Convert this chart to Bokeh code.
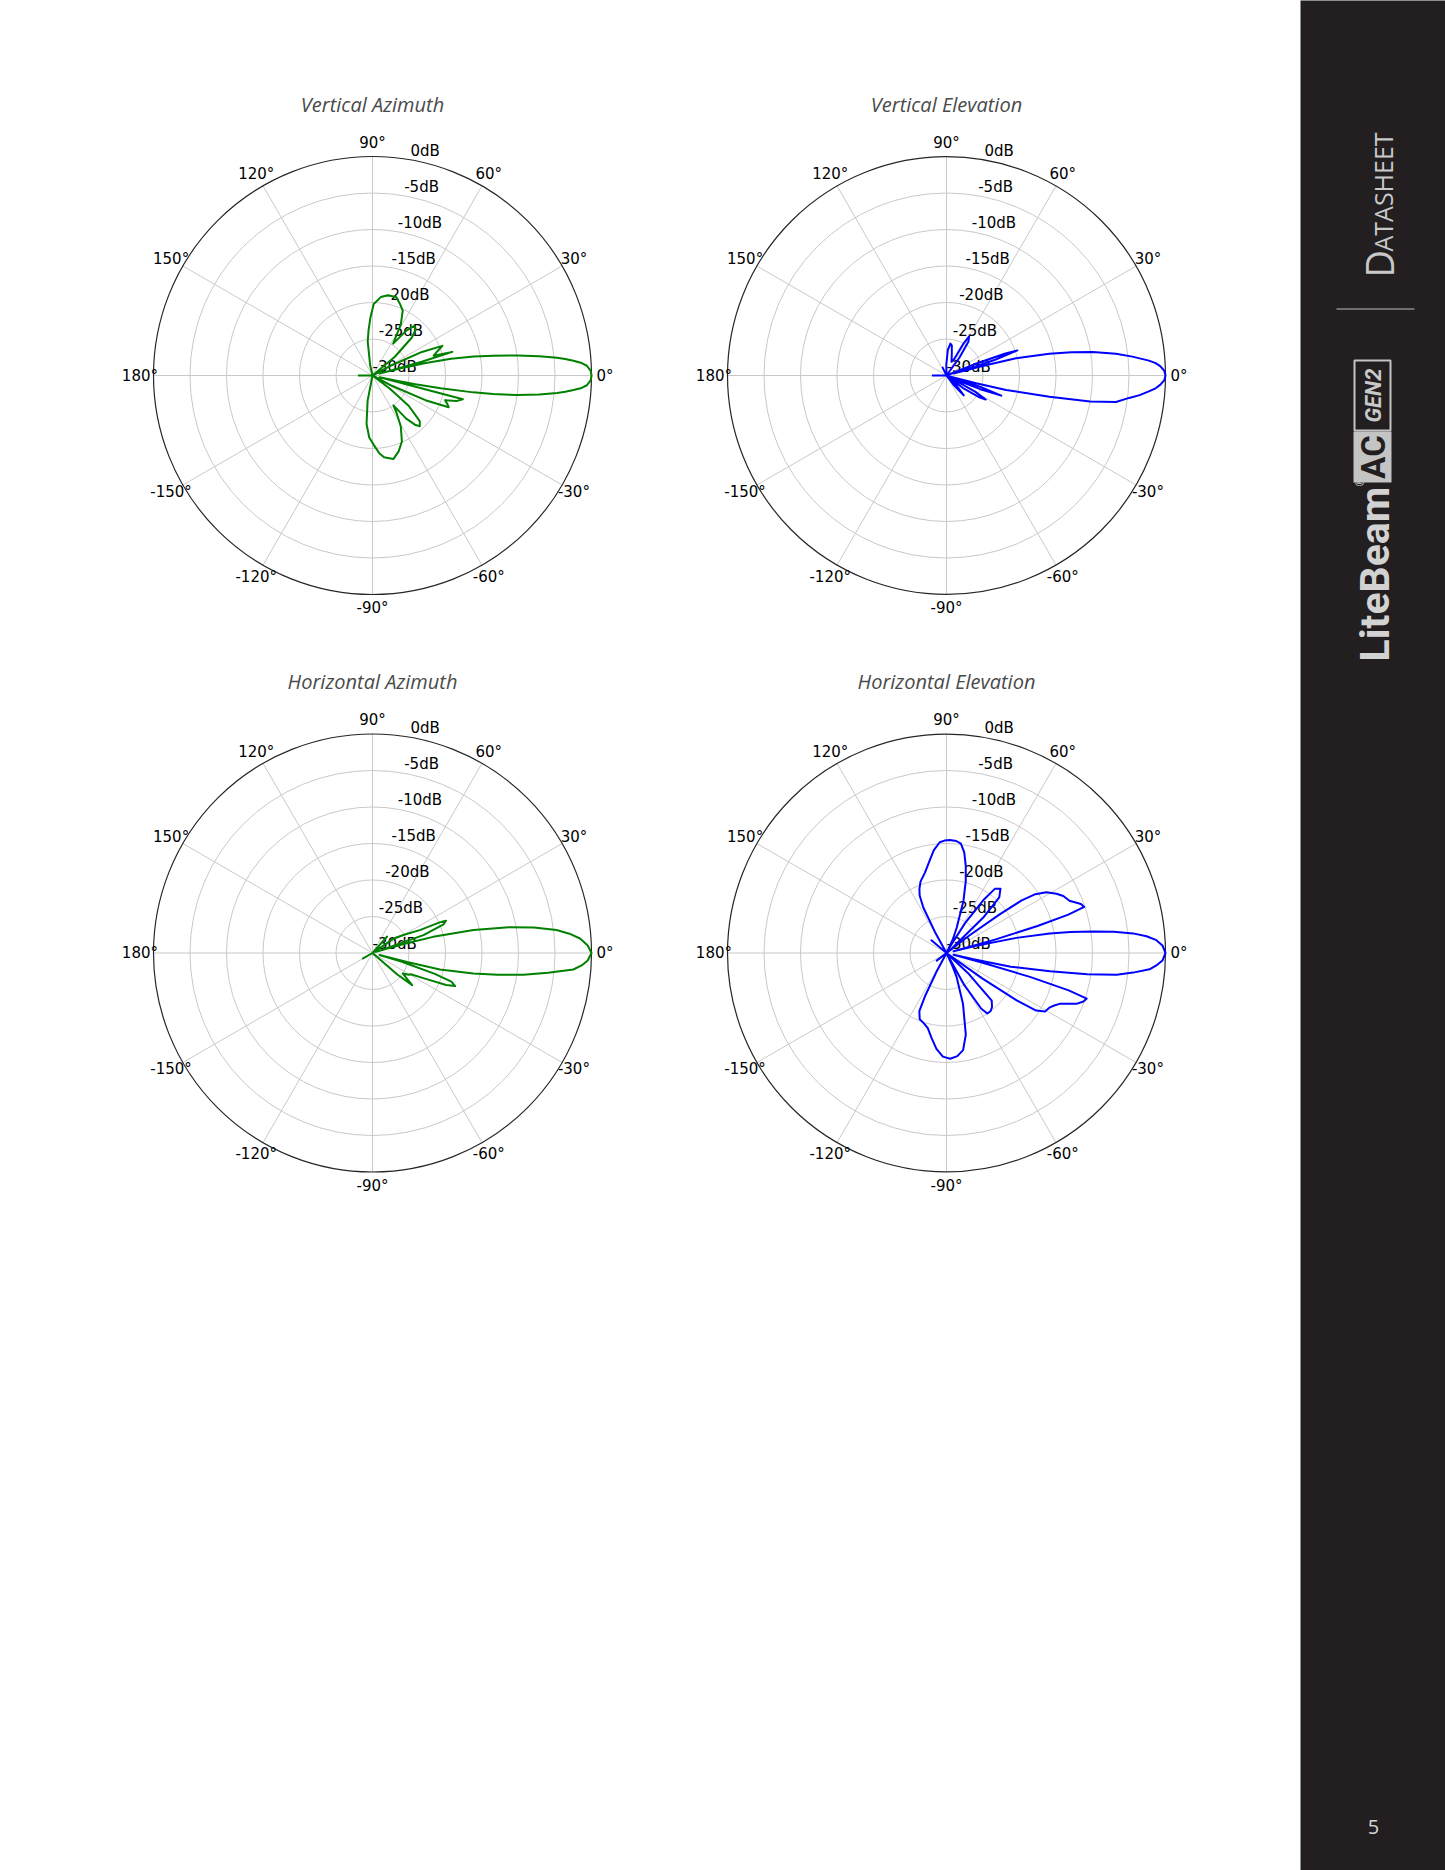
import numpy as np
from bokeh.plotting import figure
from bokeh.models import Range1d
from bokeh.core.properties import value
from bokeh.embed import file_html
from bokeh.resources import INLINE

# ---------------- data ----------------
titles = ["Vertical Azimuth", "Vertical Elevation", "Horizontal Azimuth", "Horizontal Elevation"]
theta_ticks = [0, 30, 60, 90, 120, 150, 180, 210, 240, 270, 300, 330]
theta_labels = ["0°", "30°", "60°", "90°", "120°", "150°", "180°", "-150°", "-120°", "-90°", "-60°", "-30°"]
r_ticks = [0, -5, -10, -15, -20, -25, -30]
r_labels = ["0dB", "-5dB", "-10dB", "-15dB", "-20dB", "-25dB", "-30dB"]

# Vertical Azimuth (green)
va_deg = [-180, -176, -106, -101, -97, -93, -89, -85, -82, -76, -71, -66, -61, -57, -55, -52, -49, -47, -44, -40,
          -37, -34, -31, -28, -25, -22.6, -21, -18.8, -17, -14.7, -13.4, -12.3, -11.5, -10.5, -9.5, -8.7, -7.7,
          -6.5, -5.4, -4.8, -4.1, -3.4, -2.6, -1.2, 0, 1.2, 2.6, 3.4, 4.2, 4.9, 5.5, 6.6, 7.9, 9.3, 10.6, 12, 13.3,
          14.2, 14.9, 15.6, 16.5, 18, 20.5, 23, 25.5, 28, 31, 36, 40, 44, 47, 50, 53, 57, 61, 65, 69, 73, 79, 84,
          89, 92, 95, 98, 103, 107, 176, 180]
va_db = [-28, -30, -30, -26.5, -23.3, -21.5, -20.5, -19.3, -18.7, -18.2, -19, -20.1, -22, -24, -25, -22.5, -21, -20.5,
         -21, -23.5, -27, -30, -30, -27, -22, -18.7, -19, -19.5, -18, -17.2, -29, -27, -24, -20.5, -16, -13.3, -10,
         -7, -4.6, -3.5, -2.4, -1.3, -0.6, -0.1, 0, -0.1, -0.6, -1.3, -2.4, -3.5, -4.6, -7, -10, -13.2, -15.9, -19,
         -22.5, -26, -29, -23, -18.6, -21.2, -20.5, -19.6, -22.5, -27, -30, -30, -26, -22.5, -21.3, -21.1, -22.3,
         -24.8, -22, -20.2, -19.5, -18.8, -18.8, -19.2, -20.2, -22, -23.8, -25.3, -28.6, -30, -30, -28]

# Vertical Elevation (blue)
ve_deg = [-180, -176, -58, -53, -49, -45, -41, -37, -33.5, -31.5, -29.5, -27, -24, -22, -20.2, -18.5, -17, -15.3,
          -14.5, -13.6, -11.7, -10.3, -8.9, -7, -5.8, -4.5, -3.5, -2.5, -1.2, 0, 1.2, 2.5, 3.4, 4.2, 5.8, 7.3, 9.1,
          10.5, 11.9, 13.9, 14.9, 15.6, 16.5, 18, 19.5, 20.5, 22, 24, 50, 54, 57, 60, 62, 65, 70, 76, 80, 83, 87,
          91, 95, 112, 116, 120, 176, 180]
ve_db = [-28, -30, -30, -28.5, -26.4, -28, -30, -27, -24.5, -23.7, -25.5, -30, -28, -25, -22, -25, -29.5, -29,
         -25.8, -21.6, -15.6, -10, -6.5, -4.8, -3.4, -2.2, -1.3, -0.7, -0.15, 0, -0.15, -0.7, -1.3, -2.2, -4.4,
         -6.6, -9.7, -12.6, -15.6, -20.2, -24.9, -29, -27, -23, -19.7, -21.5, -26, -30, -30, -27, -24.5, -23.8,
         -25, -27.5, -28, -27, -25.8, -25.6, -26.5, -28.5, -30, -30, -28.8, -30, -30, -28]

# Horizontal Azimuth (green)
ha_deg = [-180, -155, -150, -145, -44, -41, -39, -37, -34, -31, -29, -26, -23.5, -21.8, -20, -18.5, -16.5, -15.5,
          -14.6, -13.7, -11.5, -9.9, -8.2, -6.4, -4.7, -3.4, -2, 0, 2, 4, 5.6, 7.1, 9, 10.7, 12.8, 14.9, 15.8,
          16.6, 17.3, 19.3, 22, 23.7, 24.5, 25.7, 30, 34.4, 38, 44, 48.5, 52, 180]
ha_db = [-30, -30, -28.5, -30, -30, -25.5, -23, -24, -25, -24.2, -24, -22, -19, -17.8, -18.5, -21, -26, -29,
         -25.1, -20.5, -15.9, -12.6, -9.1, -5.8, -2.4, -1.3, -0.5, 0, -0.5, -1.5, -2.9, -4.6, -7.6, -11, -15.8,
         -21.4, -25, -28, -29.5, -22.6, -19.5, -19, -19.8, -22.7, -25, -26.5, -30, -30, -27, -30, -30]

# Horizontal Elevation (blue)
he_deg = [-180, -145, -142, -139, -120, -118, -116.5, -115, -112, -108, -104, -100, -96, -92, -88, -84, -80.3,
          -76.7, -72, -67, -65.5, -63.5, -61, -58, -56, -53, -50, -46.5, -43, -39, -37, -35.5, -34, -32.7, -30.7,
          -27.7, -26, -24.2, -21.4, -19.5, -18, -17, -16, -15, -14, -13, -12, -10, -8.6, -7.3, -6, -4.6, -3.4, -2,
          0, 2, 3.5, 4.8, 6, 7.2, 8.3, 9.6, 10.7, 12.2, 13.7, 14.5, 15.5, 16.5, 17.5, 18.5, 20, 23, 26, 28.3, 31.3,
          33.5, 35, 36, 37.5, 39.5, 41, 44, 46.5, 50, 53, 55, 58, 61, 63, 65, 68, 72, 75, 77.5, 80, 82.5, 85, 88.3,
          91, 93.5, 97, 100, 105, 110, 113, 115, 117, 119, 121, 138, 140, 142, 180]
he_db = [-30, -30, -28.3, -30, -30, -27, -23.5, -21.2, -20.2, -19.9, -19.4, -18.2, -16.8, -15.8, -15.5, -15.8,
         -16.5, -18.5, -22.7, -26.5, -28, -30, -25, -21, -20, -20, -20.3, -21, -26, -30, -30, -24, -18.4, -15.4,
         -14.3, -14, -13.6, -13, -10.9, -10.1, -9.8, -12.5, -18, -25, -29, -26.2, -21, -15.6, -10.5, -6.5, -4.3,
         -2.1, -1.2, -0.4, 0, -0.4, -1.2, -2.5, -4.3, -6.9, -9.7, -12.8, -15.6, -20.2, -26, -29, -23, -17, -12.5,
         -10.1, -10.4, -11.7, -12.2, -12.9, -14, -15.4, -17.5, -21, -26, -30, -29, -23, -19.5, -18.5, -19, -21,
         -25, -29, -30, -28, -26.3, -22.5, -19.8, -17.8, -16, -14.9, -14.6, -14.5, -14.6, -14.8, -15.8, -17,
         -18.6, -19.6, -20.5, -21.3, -23, -27, -30, -30, -27.3, -30, -30]

DB_MIN, DB_MAX = -30.0, 0.0

# ---------------- page / figure ----------------
PAGE_W, PAGE_H = 1445, 1870
W, H = PAGE_W, PAGE_H

p = figure(width=W, height=H, x_range=Range1d(0, W), y_range=Range1d(0, H),
           output_backend="svg", toolbar_location=None, x_axis_location=None, y_axis_location=None,
           min_border=0, outline_line_color=None, background_fill_color="white", border_fill_color="white")
p.xgrid.visible = False
p.ygrid.visible = False


def Y(py):
    return PAGE_H - py


R = 219.0
GRID = "#c9c9c9"
TICK_FONT = value("DejaVu Sans")
TICK_SIZE = "15px"

panels = [
    (372.0, 375.0, va_deg, va_db, "#008000", titles[0]),
    (946.0, 375.0, ve_deg, ve_db, "#0000ff", titles[1]),
    (372.0, 952.5, ha_deg, ha_db, "#008000", titles[2]),
    (946.0, 952.5, he_deg, he_db, "#0000ff", titles[3]),
]

th = np.deg2rad(theta_ticks)
rvals = R * (np.array(r_ticks, dtype=float) - DB_MIN) / (DB_MAX - DB_MIN)

for cx, cyp, deg, db, color, title in panels:
    cy = Y(cyp)
    inner = [r for r in rvals if 0 < r < R]
    p.circle(x=[cx] * len(inner), y=[cy] * len(inner), radius=inner, fill_color=None,
             line_color=GRID, line_width=1)
    p.segment(x0=[cx] * len(th), y0=[cy] * len(th), x1=cx + R * np.cos(th), y1=cy + R * np.sin(th),
              line_color=GRID, line_width=1)
    p.circle(x=[cx], y=[cy], radius=[R], fill_color=None, line_color="#262626", line_width=1.2)

    p.text(x=cx + 1.062 * R * np.cos(th), y=cy + 1.062 * R * np.sin(th), text=theta_labels,
           text_align="center", text_baseline="middle", text_font=TICK_FONT,
           text_font_size=TICK_SIZE, text_color="#000000")
    a = np.deg2rad(80)
    p.text(x=cx + rvals * np.cos(a), y=cy + rvals * np.sin(a), text=r_labels,
           text_align="left", text_baseline="bottom", text_font=TICK_FONT,
           text_font_size=TICK_SIZE, text_color="#000000")

    p.text(x=[cx], y=[cy + 271.5], text=[title], text_align="center", text_baseline="middle",
           text_font=value("Open Sans"), text_font_style="italic", text_font_size="20px",
           text_color="#4a4a4a")

    rr = R * np.clip((np.array(db, dtype=float) - DB_MIN) / (DB_MAX - DB_MIN), 0, 1)
    t = np.deg2rad(np.array(deg, dtype=float))
    p.line(cx + rr * np.cos(t), cy + rr * np.sin(t), line_color=color, line_width=2, line_join="round")

# ---------------- sidebar ----------------
SIDE = "#231f20"
LIGHT = "#c8c8c8"
p.quad(left=[1300], right=[PAGE_W + 10], bottom=[Y(PAGE_H + 10)], top=[Y(-10)], fill_color=SIDE, line_color=None)

rot = np.pi / 2
p.text(x=[1378], y=[Y(277)], text=["D"], angle=rot, text_align="left", text_baseline="middle",
       text_font=value("Open Sans"), text_font_size="38px", text_color=LIGHT)
p.text(x=[1382.5], y=[Y(251)], text=["ATASHEET"], angle=rot, text_align="left", text_baseline="middle",
       text_font=value("Open Sans"), text_font_size="25px", text_color=LIGHT)
p.segment(x0=[1336], y0=[Y(308.5)], x1=[1414], y1=[Y(308.5)], line_color="#bdbdbd", line_width=1.2)

# LiteBeam logo
LOGO = value("Roboto")
p.text(x=[1374], y=[Y(661)], text=["LiteBeam"], angle=rot, text_align="left", text_baseline="middle",
       text_font=LOGO, text_font_style="bold", text_font_size="41px", text_color="#d2d2d2")
p.text(x=[1360], y=[Y(486)], text=["®"], angle=rot, text_align="left", text_baseline="middle",
       text_font=LOGO, text_font_size="11px", text_color="#d2d2d2")
p.quad(left=[1353], right=[1391], top=[Y(431)], bottom=[Y(482)], fill_color="#c4c4c4", line_color=None)
p.text(x=[1373], y=[Y(456.5)], text=["AC"], angle=rot, text_align="center", text_baseline="middle",
       text_font=LOGO, text_font_style="bold", text_font_size="33px", text_color=SIDE)
p.quad(left=[1354], right=[1390], top=[Y(360)], bottom=[Y(430)], fill_color=SIDE, line_color="#c4c4c4",
       line_width=2)
p.text(x=[1373], y=[Y(395)], text=["GEN2"], angle=rot, text_align="center", text_baseline="middle",
       text_font=LOGO, text_font_style="bold italic", text_font_size="22px", text_color="#c8c8c8")

# page number
p.text(x=[1373], y=[Y(1826)], text=["5"], text_align="center", text_baseline="middle",
       text_font=value("Open Sans"), text_font_size="20px", text_color="#d6d6d6")

open("out.html", "w").write(file_html(p, INLINE))
